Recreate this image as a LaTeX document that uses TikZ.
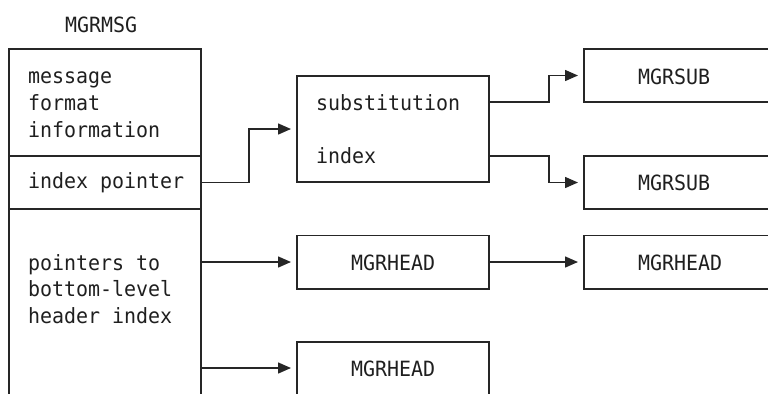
\documentclass[tikz,border=0pt]{standalone}
\usepackage{fontspec}
\newfontfamily\dmono[FakeStretch=0.95]{DejaVu Sans Mono}
\usetikzlibrary{arrows.meta}
\definecolor{linecol}{gray}{0.15}
\definecolor{txtcol}{gray}{0.12}
\begin{document}
\begin{tikzpicture}[x=1bp,y=-1bp,
  boxst/.style={draw=linecol, line width=1.5bp, inner sep=0pt, outer sep=0pt, minimum width=#1},
  lbl/.style={anchor=base west, inner sep=0pt, outer sep=0pt, text=txtcol, font=\dmono\fontsize{21bp}{27bp}\selectfont},
  arr/.style={draw=linecol, line width=1.5bp, -{Triangle[length=13bp,width=11bp]}, shorten >=6bp}]
\clip (0,0) rectangle (768,393);
% MGRMSG boxes
\node[boxst=192bp, minimum height=107bp] (msgA) at (105,102.5) {};
\node[boxst=192bp, minimum height=53bp] (msgB) at (105,182.5) {};
\node[boxst=192bp, minimum height=241bp] (msgC) at (105,329.5) {};
% substitution index
\node[boxst=192bp, minimum height=106bp] (subst) at (393,129) {};
% MGRSUB
\node[boxst=192bp, minimum height=53bp] (sub1) at (680,75.5) {};
\node[boxst=192bp, minimum height=53bp] (sub2) at (680,182.5) {};
% MGRHEAD
\node[boxst=192bp, minimum height=53.5bp] (head1) at (393,262) {};
\node[boxst=192bp, minimum height=53.5bp] (head2) at (680,262) {};
\node[boxst=192bp, minimum height=106bp] (head3) at (393,395) {};
\coordinate (h3in) at ([yshift=27bp]head3.west);
% texts
\node[lbl] (ttl) at (65,32) {MGRMSG};
\node[lbl] (m1) at (28,83) {message};
\node[lbl] (m2) at (28,110) {format};
\node[lbl] (m3) at (28,137) {information};
\node[lbl] (ip) at (28,188.5) {index pointer};
\node[lbl] (p1) at (28,270) {pointers to};
\node[lbl] (p2) at (28,296.5) {bottom-level};
\node[lbl] (p3) at (28,323) {header index};
\node[lbl] (s1) at (316,110.5) {substitution};
\node[lbl] (s2) at (316,163) {index};
\node[lbl] (u1) at (638,84) {MGRSUB};
\node[lbl] (u2) at (638,190.5) {MGRSUB};
\node[lbl] (h1t) at (351,270) {MGRHEAD};
\node[lbl] (h2t) at (638,270) {MGRHEAD};
\node[lbl] (h3t) at (351,376) {MGRHEAD};
% connectors
\draw[arr] (msgB.east) -- ++(48,0) |- (subst.west);
\draw[arr] ([yshift=27bp]subst.east) -- ++(60,0) |- (sub1.west);
\draw[arr] ([yshift=-27bp]subst.east) -- ++(60,0) |- (sub2.west);
\draw[arr] (msgC.east |- head1.west) -- (head1.west);
\draw[arr] (head1.east) -- (head2.west);
\draw[arr] (msgC.east |- h3in) -- (h3in);
\end{tikzpicture}
\end{document}
